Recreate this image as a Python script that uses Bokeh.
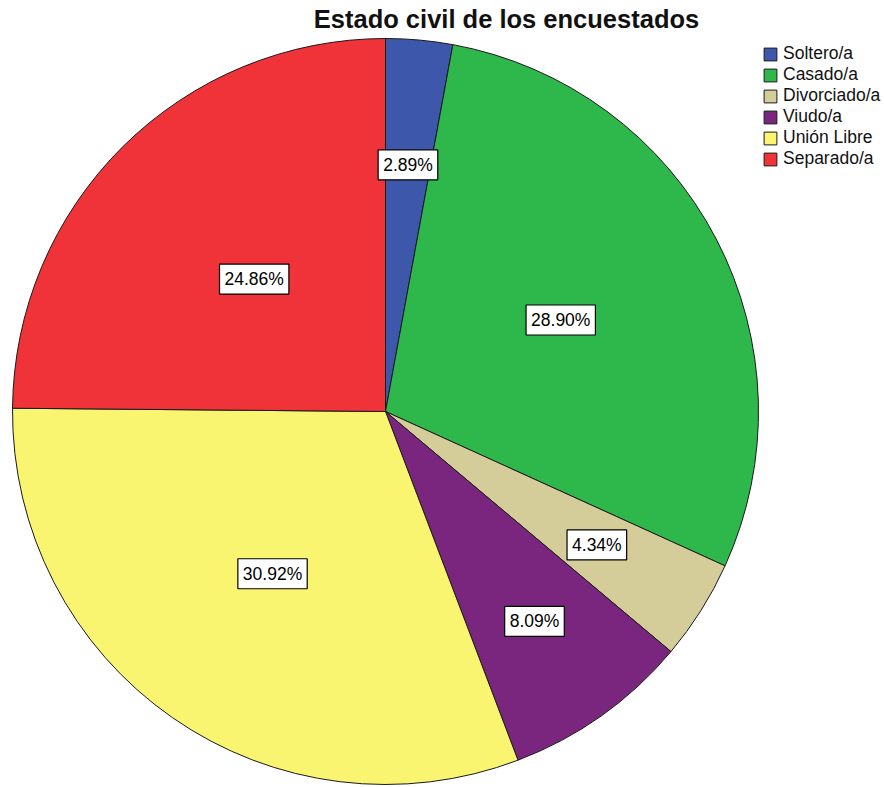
import math
from bokeh.plotting import figure
from bokeh.models import Range1d, ColumnDataSource, Label, Legend, LegendItem
from bokeh.embed import file_html
from bokeh.resources import INLINE

categories = ["Soltero/a", "Casado/a", "Divorciado/a", "Viudo/a", "Unión Libre", "Separado/a"]
percentages = [2.89, 28.90, 4.34, 8.09, 30.92, 24.86]
colors = ["#3D58AB", "#2EB84B", "#D4CD99", "#7B267E", "#FAF571", "#EF3338"]
title_text = "Estado civil de los encuestados"

# layout (screen px)
W, H = 884, 787
cx, cy, R = 385, H - 411, 373
label_r_frac = [0.664, 0.53, 0.67, 0.69, 0.53, 0.50]

total = sum(percentages)
starts, ends, lx, ly, texts = [], [], [], [], []
cum = 0.0
for i, v in enumerate(percentages):
    a0 = math.pi / 2 - 2 * math.pi * cum / total
    cum += v
    a1 = math.pi / 2 - 2 * math.pi * cum / total
    starts.append(a0)
    ends.append(a1)
    mid = (a0 + a1) / 2
    lx.append(cx + label_r_frac[i] * R * math.cos(mid))
    ly.append(cy + label_r_frac[i] * R * math.sin(mid))
    texts.append(f"{v:.2f}%")

src = ColumnDataSource(dict(cat=categories, val=percentages, color=colors,
                            start=starts, end=ends))

p = figure(width=W, height=H, output_backend="svg", toolbar_location=None,
           x_range=Range1d(0, W), y_range=Range1d(0, H), min_border=0)
p.axis.visible = False
p.grid.visible = False
p.outline_line_color = None
p.background_fill_color = "white"

r = p.wedge(x=cx, y=cy, radius=R, start_angle="start", end_angle="end", direction="clock",
            fill_color="color", line_color="#1a1a1a", line_width=1, source=src)

for x, y, t in zip(lx, ly, texts):
    p.add_layout(Label(x=x, y=y, text=t, text_align="center",
                       text_baseline="middle", text_font="Liberation Sans", text_font_size="17.5px",
                       text_color="black", background_fill_color="white",
                       border_line_color="black", border_line_width=1.2, padding=5))

title = Label(x=506, y=H - 18, text=title_text, text_align="center", text_baseline="middle",
              text_font="Liberation Sans", text_font_style="bold", text_font_size="25.5px",
              text_color="#111111")
p.add_layout(title)

items = [LegendItem(label=c, renderers=[r], index=i) for i, c in enumerate(categories)]
legend = Legend(items=items, label_text_font="Liberation Sans", label_text_color="#111111",
                label_text_font_size="17.5px", glyph_width=16, glyph_height=16,
                label_standoff=5, spacing=0, padding=0, margin=0,
                border_line_color=None, background_fill_alpha=0, label_height=16)
legend.location = (762, H - 43 - 126)
p.add_layout(legend)

open("out.html", "w").write(file_html(p, INLINE))
